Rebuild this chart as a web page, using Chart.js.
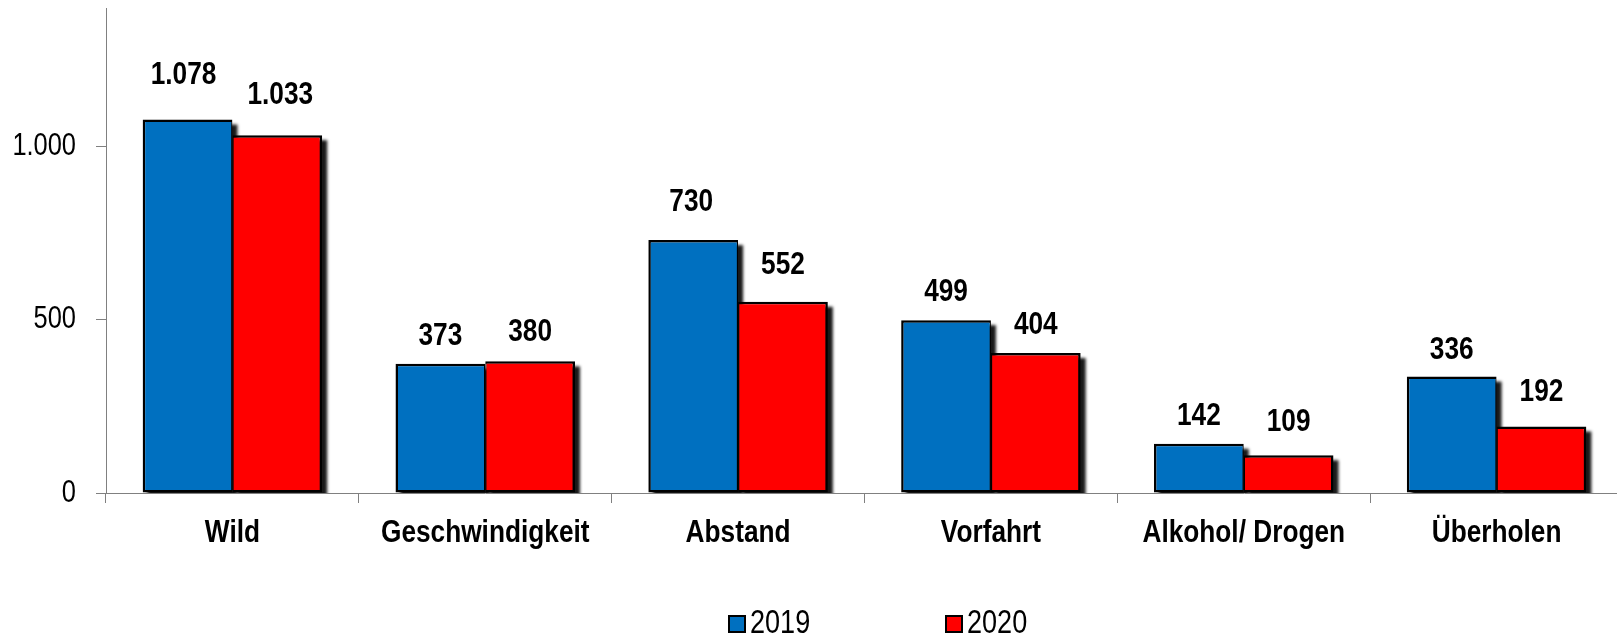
<!DOCTYPE html>
<html>
<head>
<meta charset="utf-8">
<script src="https://cdn.jsdelivr.net/npm/chart.js@4.4.1/dist/chart.umd.min.js"></script>
<style>
  html, body { margin: 0; padding: 0; background: #fff; overflow: hidden; width: 1617px; height: 636px; }
  canvas { display: block; }
</style>
</head>
<body>
<canvas id="chart" width="1623" height="636" style="width:1623px;height:636px"></canvas>
<script>
// Unfallursachen, 2019 vs 2020
const categories = ['Wild', 'Geschwindigkeit', 'Abstand', 'Vorfahrt', 'Alkohol/ Drogen', 'Überholen'];
const seriesNames = ['2019', '2020'];
const values2019 = [1078, 373, 730, 499, 142, 336];
const values2020 = [1033, 380, 552, 404, 109, 192];
const yTickValues = [0, 500, 1000];

const BLUE = '#0070C0';
const RED = '#FF0000';
const AXIS = '#808080';
const FAMILY = '"Liberation Sans", Arial, sans-serif';
const NARROW = 0.82;   // horizontal squeeze that gives the condensed look

// German thousands separator: 1078 -> "1.078"
const fmt = v => String(v).replace(/\B(?=(\d{3})+(?!\d))/g, '.');

// Draw condensed text: same height, narrower glyphs
function drawNarrow(ctx, text, x, y, align, font) {
  ctx.save();
  ctx.translate(x, y);
  ctx.scale(NARROW, 1);
  ctx.font = font;
  ctx.fillStyle = '#000';
  ctx.textAlign = align;
  ctx.textBaseline = 'middle';
  ctx.fillText(text, 0, 0);
  ctx.restore();
}

// Soft black drop shadow behind each bar, cut off at the zero line
const barShadow = {
  id: 'barShadow',
  beforeDatasetsDraw(chart, args, opts) {
    const { ctx, chartArea } = chart;
    const zeroY = chart.scales.y.getPixelForValue(0);
    ctx.save();
    ctx.beginPath();
    ctx.rect(chartArea.left, chartArea.top - 20, chartArea.right - chartArea.left + 20, zeroY - chartArea.top + 20);
    ctx.clip();
    ctx.filter = 'blur(' + opts.blur + 'px)';
    ctx.fillStyle = opts.color;
    chart.data.datasets.forEach((ds, i) => {
      chart.getDatasetMeta(i).data.forEach(bar => {
        const p = bar.getProps(['x', 'y', 'base', 'width'], true);
        ctx.fillRect(p.x - p.width / 2 + opts.dx, p.y + opts.dy, p.width, p.base - p.y);
      });
    });
    ctx.restore();
  }
};

// Bold value above every bar
const valueLabels = {
  id: 'valueLabels',
  afterDatasetsDraw(chart, args, opts) {
    const font = 'bold ' + opts.size + 'px ' + FAMILY;
    chart.data.datasets.forEach((ds, i) => {
      chart.getDatasetMeta(i).data.forEach((bar, j) => {
        const p = bar.getProps(['x', 'y'], true);
        drawNarrow(chart.ctx, fmt(ds.data[j]), p.x + opts.shiftX[i][j], p.y - opts.lift[i][j], 'center', font);
      });
    });
  }
};

// Axis labels placed at the scales' own tick positions
const axisLabels = {
  id: 'axisLabels',
  afterDraw(chart, args, opts) {
    const { ctx } = chart;
    const xs = chart.scales.x, ys = chart.scales.y;
    const xFont = 'bold ' + opts.xSize + 'px ' + FAMILY;
    const yFont = opts.ySize + 'px ' + FAMILY;
    xs.ticks.forEach((t, i) => {
      drawNarrow(ctx, xs.getLabelForValue(t.value), xs.getPixelForTick(i), xs.top + opts.xOffset, 'center', xFont);
    });
    ys.ticks.forEach((t, i) => {
      drawNarrow(ctx, fmt(t.value), ys.right - opts.yOffset, ys.getPixelForTick(i), 'right', yFont);
    });
  }
};

// Legend under the axis: outlined colour square + year
const boxLegend = {
  id: 'boxLegend',
  afterDraw(chart, args, opts) {
    const { ctx, chartArea } = chart;
    const cx = (chartArea.left + chartArea.right) / 2;
    const top = chart.height - opts.bottom - opts.box;
    const font = opts.size + 'px ' + FAMILY;
    chart.data.datasets.forEach((ds, i) => {
      const x = cx + opts.offsets[i];
      ctx.save();
      ctx.fillStyle = ds.backgroundColor;
      ctx.fillRect(x, top, opts.box, opts.box);
      ctx.lineWidth = 2;
      ctx.strokeStyle = '#000';
      ctx.strokeRect(x + 1, top + 1, opts.box - 2, opts.box - 2);
      ctx.restore();
      drawNarrow(ctx, ds.label, x + opts.box + opts.gap, top + opts.box / 2, 'left', font);
    });
  }
};

new Chart(document.getElementById('chart'), {
  type: 'bar',
  data: {
    labels: categories,
    datasets: [
      {
        label: seriesNames[0],
        data: values2019,
        backgroundColor: BLUE,
        borderColor: '#000',
        borderWidth: { top: 2.5, left: 2.5, right: 1.25, bottom: 2.5 },
        borderSkipped: false,
        categoryPercentage: 0.71,
        barPercentage: 1.0
      },
      {
        label: seriesNames[1],
        data: values2020,
        backgroundColor: RED,
        borderColor: '#000',
        borderWidth: { top: 2.5, left: 1.25, right: 2.5, bottom: 2.5 },
        borderSkipped: false,
        categoryPercentage: 0.71,
        barPercentage: 1.0
      }
    ]
  },
  options: {
    responsive: false,
    animation: false,
    events: [],
    layout: { padding: { top: 8, left: 0, right: 0, bottom: 0 } },
    plugins: {
      legend: { display: false },
      tooltip: { enabled: false },
      barShadow: { dx: 5, dy: 5, blur: 1.5, color: 'rgba(0,0,0,0.9)' },
      valueLabels: {
        size: 32,
        lift: [[44, 28, 37.5, 28, 28, 26.5], [40, 29.5, 36.7, 28, 32.7, 34.6]],
        shiftX: [[-4, 0, -2, 0, 0, 0], [3, 0, 0, 0, 0, 0]]
      },
      axisLabels: { xSize: 32, ySize: 31, xOffset: 40, yOffset: 30 },
      boxLegend: { size: 33, box: 18, gap: 4, bottom: 3, offsets: [-136.5, 80.5] }
    },
    scales: {
      x: {
        grid: { display: true, drawOnChartArea: false, drawTicks: true, tickLength: 10, color: AXIS, offset: true },
        border: { display: true, color: AXIS, width: 1 },
        ticks: { display: false, autoSkip: false, maxRotation: 0 },
        afterFit(scale) {
          scale.height = 143;
          scale.paddingLeft = 0; scale.paddingRight = 0;
        }
      },
      y: {
        min: 0,
        max: 1400,
        afterBuildTicks(scale) { scale.ticks = yTickValues.map(v => ({ value: v })); },
        grid: { display: true, drawOnChartArea: false, drawTicks: true, tickLength: 10, color: AXIS },
        border: { display: true, color: AXIS, width: 1 },
        ticks: { display: false },
        afterFit(scale) {
          scale.width = 106;
          scale.paddingTop = 0; scale.paddingBottom = 0;
        }
      }
    }
  },
  plugins: [barShadow, valueLabels, axisLabels, boxLegend]
});
</script>
</body>
</html>
